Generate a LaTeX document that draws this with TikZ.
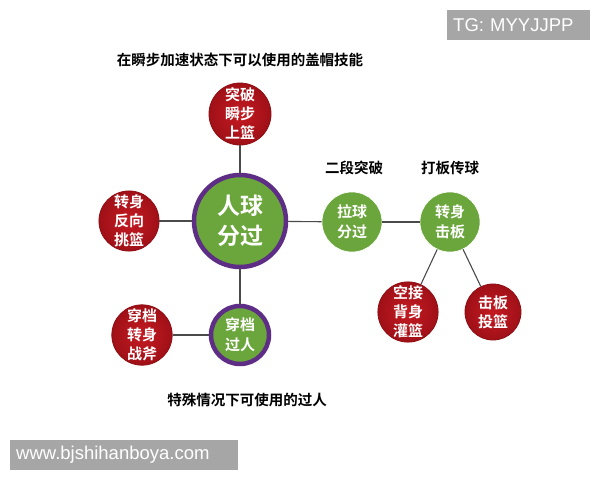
\documentclass[tikz,border=0pt]{standalone}
\usepackage{fontspec}
\setmainfont{Liberation Sans}
\newfontfamily\cjkb{Noto Sans CJK SC Bold}
\begin{document}
\begin{tikzpicture}[x=1pt,y=-1pt,
  redball/.style={circle,minimum size=62pt,inner sep=0pt,draw=redb,line width=0.8pt,inner color=redi,outer color=redo,text=white,align=center,font=\cjkb\fontsize{15}{19}\selectfont},
  greenball/.style={circle,minimum size=60pt,inner sep=0pt,fill=greenc,draw=white,line width=0.6pt,text=white,align=center,font=\cjkb\fontsize{15}{20}\selectfont},
  ringball/.style={circle,inner sep=0pt,fill=greenc,draw=purplec,line width=4.5pt,text=white,align=center},
  link/.style={draw=linec,line width=1.1pt},
  caption/.style={font=\cjkb\fontsize{14.5}{17}\selectfont,text=black},
  tag/.style={fill=gray!70,text=white,inner xsep=6pt,inner ysep=0pt,anchor=west,align=left,font=\fontsize{18.5}{20}\selectfont}]
\definecolor{greenc}{HTML}{6AA63B}
\definecolor{purplec}{HTML}{5E2D86}
\definecolor{linec}{HTML}{4A4A4A}
\definecolor{redi}{HTML}{C41A22}
\definecolor{redo}{HTML}{A01017}
\definecolor{redb}{HTML}{8E0D12}
\useasboundingbox (0,0) rectangle (600,480);
\fill[white] (0,0) rectangle (600,480);
% nodes
\node[ringball,minimum size=92pt,font=\cjkb\fontsize{23}{30}\selectfont] (c) at (240,221) {人球\\分过};
\node[redball] (t) at (240,114) {突破\\瞬步\\上篮};
\node[redball,minimum size=58pt] (l) at (129,221) {转身\\反向\\挑篮};
\node[ringball,minimum size=58pt,font=\cjkb\fontsize{15}{20}\selectfont] (b) at (240,335) {穿档\\过人};
\node[redball,minimum size=60pt] (bl) at (142,335) {穿档\\转身\\战斧};
\node[greenball] (r1) at (352,222) {拉球\\分过};
\node[greenball] (r2) at (450,222) {转身\\击板};
\node[redball,minimum size=60pt] (rb1) at (408,312) {空接\\背身\\灌篮};
\node[redball,minimum size=56pt] (rb2) at (493,312) {击板\\投篮};
% links
\draw[link] (t) -- (c);
\draw[link] (l) -- (c);
\draw[link] (c) -- (b);
\draw[link] (bl) -- (b);
\draw[link] (c) -- (r1);
\draw[link] (r1) -- (r2);
\draw[link] (r2) -- (rb1);
\draw[link] (r2) -- (rb2);
% captions
\node[caption] (cap1) at (240,60) {在瞬步加速状态下可以使用的盖帽技能};
\node[caption] (cap2) at (354,168) {二段突破};
\node[caption] (cap3) at (450,168) {打板传球};
\node[caption] (cap4) at (247,400) {特殊情况下可使用的过人};
% tags
\node[tag,text width=131pt,minimum height=30pt] (tg) at (447,25) {TG: MYYJJPP};
\node[tag,text width=216pt,minimum height=30pt] (www) at (10,455) {www.bjshihanboya.com};
\end{tikzpicture}
\end{document}
